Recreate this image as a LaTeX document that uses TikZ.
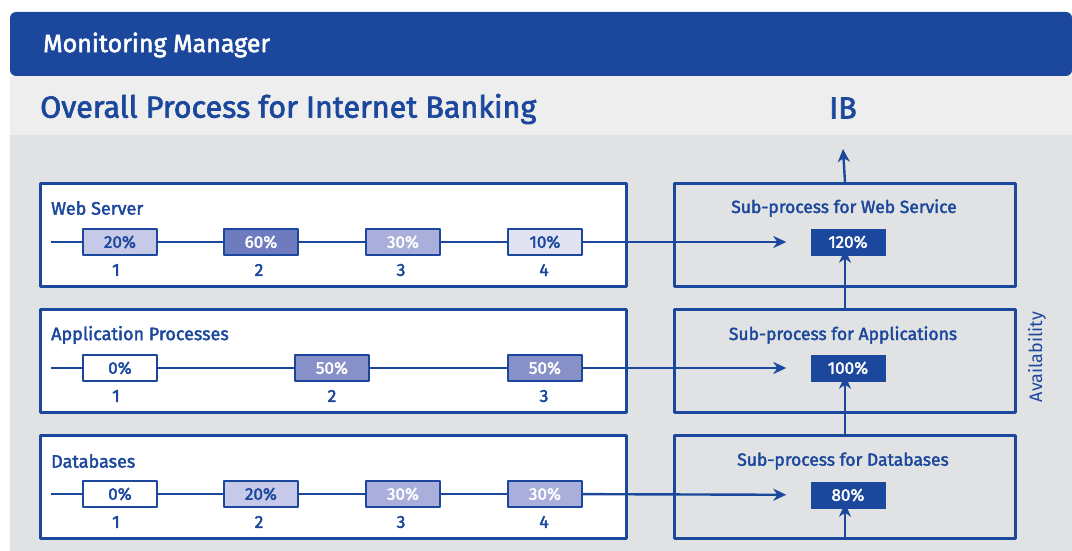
\documentclass[tikz,border=0pt]{standalone}
\usepackage{fontspec}
\setmainfont{Fira Sans}
\newfontfamily\medfont{Fira Sans}[FakeBold=2.2]
\usetikzlibrary{arrows.meta}
\definecolor{mmblue}{HTML}{1B479C}
\definecolor{mmband}{HTML}{EEEEEE}
\definecolor{mmgray}{HTML}{E1E2E4}
\definecolor{pctA}{HTML}{E1E3F3}
\definecolor{pctB}{HTML}{C6C9E7}
\definecolor{pctC}{HTML}{A9AFDA}
\definecolor{pctD}{HTML}{8890C8}
\definecolor{pctE}{HTML}{6F7BBF}
\tikzset{
	panel/.style={draw=mmblue,line width=3pt,anchor=north west,minimum height=103pt,inner sep=0pt},
	src/.style={panel,fill=white,minimum width=586pt},
	sub/.style={panel,minimum width=341pt},
	pct/.style={draw=mmblue,line width=1.6pt,minimum width=74pt,minimum height=26pt,inner sep=0pt,
		font=\medfont\fontsize{17}{20}\selectfont},
	res/.style={fill=mmblue,text=white,minimum width=75pt,minimum height=27pt,inner sep=0pt,
		font=\medfont\fontsize{17}{20}\selectfont},
	rowlabel/.style={anchor=west,text=mmblue,inner sep=0pt,font=\medfont\fontsize{18}{21}\selectfont},
	sublabel/.style={text=mmblue,inner sep=0pt,font=\medfont\fontsize{17.5}{21}\selectfont},
	num/.style={text=mmblue,inner sep=0pt,font=\medfont\fontsize{17.5}{20}\selectfont},
	wire/.style={draw=mmblue,line width=2.4pt}
}
\begin{document}
\begin{tikzpicture}[x=1pt,y=-1pt,>={Stealth[length=13pt,width=12pt,inset=4pt]},line join=round]
	\useasboundingbox (0,0) rectangle (1072,551);
	% bands
	\fill[mmgray] (10,135) rectangle (1072,551);
	\fill[mmband] (10,76) rectangle (1072,135);
	\fill[mmblue,rounded corners=6pt] (10,12) rectangle (1072,76);
	\node[anchor=west,text=white,inner sep=0pt,font=\medfont\fontsize{25}{30}\selectfont] (head) at (43,45) {Monitoring Manager};
	\node[anchor=west,text=mmblue,inner sep=0pt,font=\medfont\fontsize{30.5}{36}\selectfont] (title) at (40,109) {Overall Process for Internet Banking};
	\node[text=mmblue,inner sep=0pt,font=\medfont\fontsize{30.5}{36}\selectfont] (ib) at (843,108) {IB};
	\coordinate (ibtip) at (843,149);

	% source panels
	\node[src] (ws) at (39,182) {};
	\node[src] (ap) at (39,308) {};
	\node[src] (db) at (39,434) {};
	\node[rowlabel] (wslabel) at (51,208) {Web Server};
	\node[rowlabel] (aplabel) at (51,335) {Application Processes};
	\node[rowlabel] (dblabel) at (51,461) {Databases};

	% sub-process panels
	\node[sub] (wssub) at (673,182) {};
	\node[sub] (apsub) at (673,308) {};
	\node[sub] (dbsub) at (673,434) {};
	\node[sublabel] (wssublabel) at (844,208) {Sub-process for Web Service};
	\node[sublabel] (apsublabel) at (843,335) {Sub-process for Applications};
	\node[sublabel] (dbsublabel) at (843,461) {Sub-process for Databases};
	\node[res] (wsres) at (848,242) {120\%};
	\node[res] (apres) at (848,368) {100\%};
	\node[res] (dbres) at (848,495) {80\%};
	\node[rotate=90,text=mmblue,inner sep=0pt,font=\fontsize{18}{21}\selectfont] (avail) at (1037,357) {Availability};

	% web server row
	\coordinate (ws0) at (51,242);
	\node[pct,fill=pctB,text=mmblue] (ws1) at (120,242) {20\%};
	\node[pct,fill=pctE,text=white] (ws2) at (261,242) {60\%};
	\node[pct,fill=pctC,text=white] (ws3) at (403,242) {30\%};
	\node[pct,fill=pctA,text=mmblue] (ws4) at (545,242) {10\%};
	\foreach \i/\x in {1/116,2/259,3/401,4/544}
		\node[num] (wsn\i) at (\x,270) {\i};
	\draw[wire] (ws0) -- (ws1) (ws1) -- (ws2) (ws2) -- (ws3) (ws3) -- (ws4);
	\draw[wire,->,shorten >=24pt] (ws4) -- (wsres);

	% application row
	\coordinate (ap0) at (51,368);
	\node[pct,fill=white,text=mmblue] (ap1) at (120,368) {0\%};
	\node[pct,fill=pctD,text=white] (ap2) at (332,368) {50\%};
	\node[pct,fill=pctD,text=white] (ap3) at (545,368) {50\%};
	\foreach \i/\x in {1/116,2/332,3/544}
		\node[num] (apn\i) at (\x,396) {\i};
	\draw[wire] (ap0) -- (ap1) (ap1) -- (ap2) (ap2) -- (ap3);
	\draw[wire,->,shorten >=24pt] (ap3) -- (apres);

	% database row
	\coordinate (db0) at (51,494);
	\node[pct,fill=white,text=mmblue] (db1) at (120,494) {0\%};
	\node[pct,fill=pctB,text=mmblue] (db2) at (261,494) {20\%};
	\node[pct,fill=pctC,text=white] (db3) at (403,494) {30\%};
	\node[pct,fill=pctC,text=white] (db4) at (545,494) {30\%};
	\foreach \i/\x in {1/116,2/259,3/401,4/544}
		\node[num] (dbn\i) at (\x,522) {\i};
	\draw[wire] (db0) -- (db1) (db1) -- (db2) (db2) -- (db3) (db3) -- (db4);
	\draw[wire,->,shorten >=24pt] (db4) -- (dbres);

	% vertical flow
	\draw[wire,->] (dbsub.south) -- ([yshift=5pt]dbsub.south |- dbres.south);
	\draw[wire,->] (dbsub.north) -- ([yshift=6pt]dbsub.north |- apres.south);
	\draw[wire,->] (apsub.north) -- ([yshift=6pt]apsub.north |- wsres.south);
	\draw[wire,->] (wssub.north) -- (ibtip);
\end{tikzpicture}
\end{document}
